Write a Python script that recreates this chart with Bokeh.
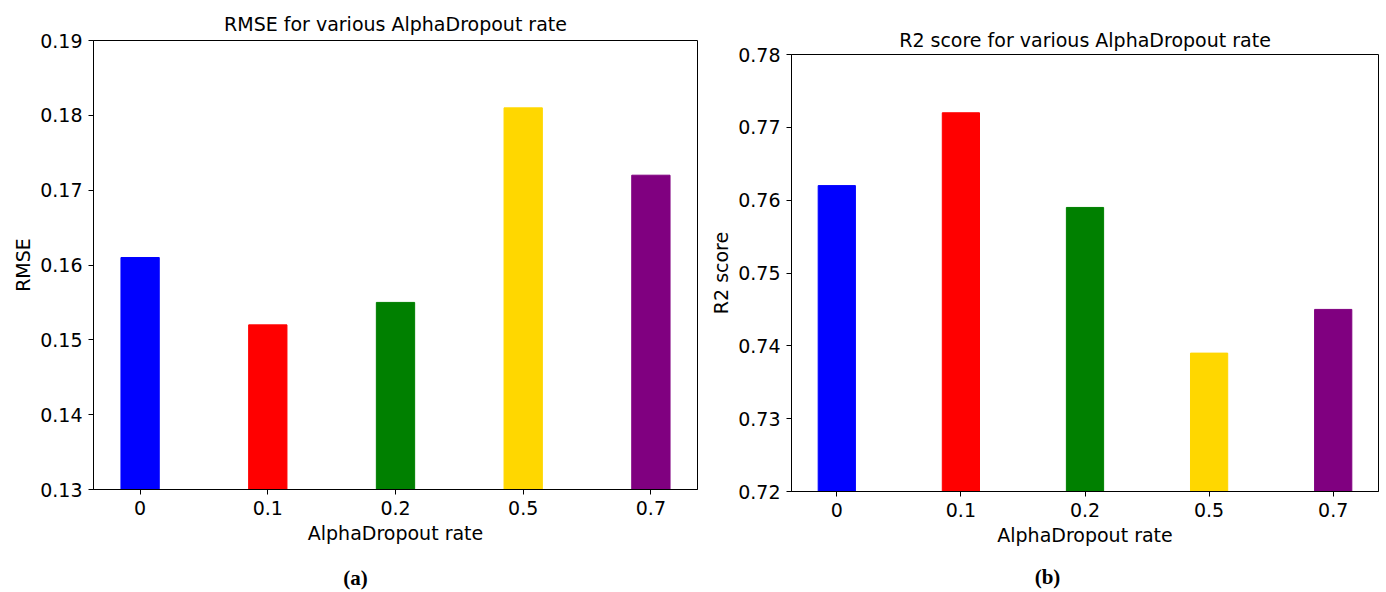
from bokeh.plotting import figure
from bokeh.layouts import row, column
from bokeh.models import (FixedTicker, Title, ColumnDataSource, Range1d, Spacer,
                          LinearAxis)
from bokeh.embed import file_html
from bokeh.resources import INLINE

rates = ["0", "0.1", "0.2", "0.5", "0.7"]
rmse = [0.161, 0.152, 0.155, 0.181, 0.172]
r2 = [0.762, 0.772, 0.759, 0.739, 0.745]
colors = ["#0000ff", "#ff0000", "#008000", "#ffd700", "#800080"]
rmse_ticks = [0.13, 0.14, 0.15, 0.16, 0.17, 0.18, 0.19]
r2_ticks = [0.72, 0.73, 0.74, 0.75, 0.76, 0.77, 0.78]

FONT = "DejaVu Sans"
FS = "19px"


def make(title, ylabel, values, ticks, caption, w, h, bl, br, bt, bb, t_so,
         cap_x, cap_so):
    xs = list(range(len(rates)))
    src = ColumnDataSource(dict(x=xs, top=values, color=colors))
    p = figure(width=w, height=h, output_backend="svg", toolbar_location=None,
               x_range=Range1d(-0.365, len(rates) - 1 + 0.365),
               y_range=Range1d(ticks[0], ticks[-1]),
               min_border_left=bl, min_border_right=br, min_border_top=bt, min_border_bottom=bb)
    p.vbar(x="x", top="top", bottom=0, width=0.3, color="color", source=src)
    p.grid.visible = False
    p.outline_line_color = "black"
    p.outline_line_alpha = 1
    p.background_fill_color = "white"
    p.border_fill_color = "white"
    for ax in (p.xaxis[0], p.yaxis[0]):
        ax.axis_line_color = "black"
        ax.major_tick_line_color = "black"
        ax.major_tick_out = 5
        ax.major_tick_in = 0
        ax.minor_tick_line_color = None
        ax.major_label_text_font = FONT
        ax.major_label_text_font_size = FS
        ax.major_label_text_color = "black"
        ax.axis_label_text_font = FONT
        ax.axis_label_text_font_size = FS
        ax.axis_label_text_font_style = "normal"
        ax.axis_label_text_color = "black"
    p.xaxis.ticker = FixedTicker(ticks=xs)
    p.xaxis.major_label_overrides = {i: r for i, r in enumerate(rates)}
    p.xaxis.axis_label = "AlphaDropout rate"
    p.xaxis.major_label_standoff = 6
    p.xaxis.axis_label_standoff = 4
    p.yaxis.ticker = FixedTicker(ticks=ticks)
    p.yaxis.major_label_overrides = {t: f"{t:.2f}" for t in ticks}
    p.yaxis.axis_label = ylabel
    p.yaxis.major_label_standoff = 6
    p.yaxis.axis_label_standoff = 3
    ttl = Title(text=title, align="center", text_font=FONT, text_font_size=FS,
                text_font_style="normal", text_color="black", standoff=t_so)
    p.add_layout(ttl, "above")

    # sub-figure caption drawn as the tick label of a bare axis below the x axis
    fw = w - bl - br
    p.extra_x_ranges = {"cap": Range1d(0, fw)}
    cap = LinearAxis(x_range_name="cap", ticker=FixedTicker(ticks=[cap_x]),
                     major_label_overrides={cap_x: caption})
    cap.axis_line_color = None
    cap.major_tick_line_color = None
    cap.minor_tick_line_color = None
    cap.major_tick_out = 0
    cap.major_tick_in = 0
    cap.major_label_standoff = cap_so
    cap.major_label_text_font = "Liberation Serif"
    cap.major_label_text_font_size = "21px"
    cap.major_label_text_font_style = "bold"
    cap.major_label_text_color = "black"
    p.add_layout(cap, "below")
    return p


p1 = make("RMSE for various AlphaDropout rate", "RMSE", rmse, rmse_ticks, "(a)",
          705, 592, 93, 8, 40, 103, 12, 262, 19)
p2 = make("R2 score for various AlphaDropout rate", "R2 score", r2, r2_ticks, "(b)",
          681, 578, 86, 8, 40, 101, 8, 256, 16)

layout = row(p1, column(Spacer(width=681, height=14), p2))
open("out.html", "w").write(file_html(layout, INLINE))
